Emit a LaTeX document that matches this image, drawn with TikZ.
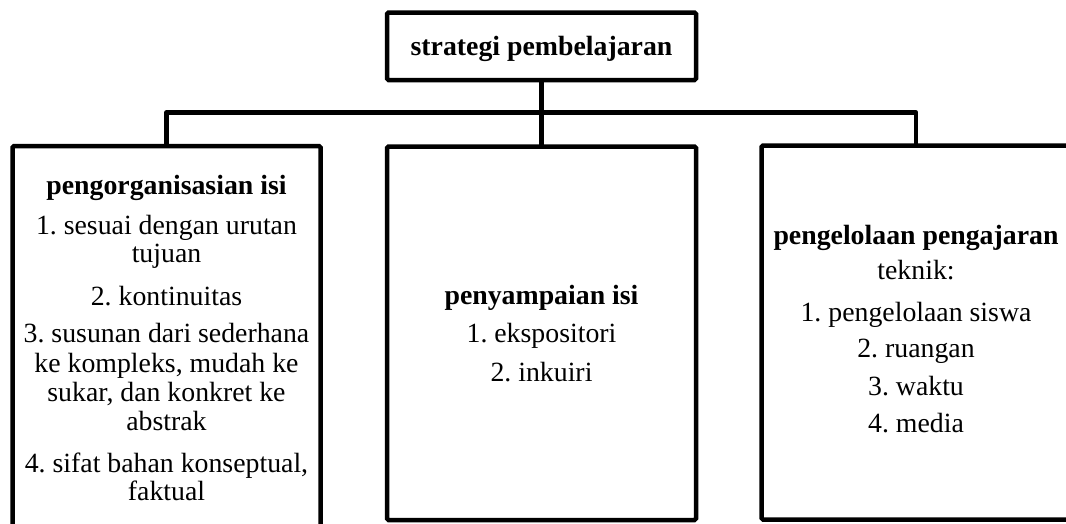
\documentclass[tikz,border=0pt]{standalone}
\usepackage{fontspec}
\setmainfont{Liberation Serif}
\frenchspacing
\begin{document}
\begin{tikzpicture}[x=1pt,y=-1pt,
  box/.style={draw, line width=4.5pt, rounded corners=1.5pt, inner sep=0pt, outer sep=0pt},
  conn/.style={draw, line width=4.5pt, line join=round},
  tl/.style={anchor=base, inner sep=0pt, font=\fontsize{27.8}{30}\selectfont},
  th/.style={tl, font=\fontsize{27.8}{30}\selectfont\bfseries}]
\useasboundingbox (0,0) rectangle (1066,523);
\clip (0,0) rectangle (1066,523);
% boxes
\node[box, minimum width=309pt, minimum height=67.5pt] (top) at (541.5,46.25) {};
\node[box, minimum width=308pt, minimum height=414pt] (left) at (166.5,353) {};
\node[box, minimum width=309pt, minimum height=373.5pt] (mid) at (541.5,333.25) {};
\node[box, minimum width=309pt, minimum height=374pt] (right) at (916,332.5) {};
% connectors
\coordinate (bus) at (541.5,112.5);
\draw[conn] (top.south) -- (mid.north);
\draw[conn] (left.north) -- (left.north |- bus) -- (right.north |- bus) -- (right.north);
% top text
\node[th] (t0) at (541.5,55) {strategi pembelajaran};
% left texts
\node[th] (l0) at (166.5,194) {pengorganisasian isi};
\node[tl] (l1) at (166.5,234) {1. sesuai dengan urutan};
\node[tl] (l2) at (166.5,262) {tujuan};
\node[tl] (l3) at (166.5,305) {2. kontinuitas};
\node[tl] (l4) at (166.5,342) {3. susunan dari sederhana};
\node[tl] (l5) at (166.5,372) {ke kompleks, mudah ke};
\node[tl] (l6) at (166.5,401) {sukar, dan konkret ke};
\node[tl] (l7) at (166.5,430) {abstrak};
\node[tl] (l8) at (166.5,472) {4. sifat bahan konseptual,};
\node[tl] (l9) at (166.5,500) {faktual};
% middle texts
\node[th] (m0) at (541.5,304) {penyampaian isi};
\node[tl] (m1) at (541.5,342) {1. ekspositori};
\node[tl] (m2) at (541.5,381) {2. inkuiri};
% right texts
\node[th] (r0) at (916,244) {pengelolaan pengajaran};
\node[tl] (r1) at (916,279) {teknik:};
\node[tl] (r2) at (916,321) {1. pengelolaan siswa};
\node[tl] (r3) at (916,357) {2. ruangan};
\node[tl] (r4) at (916,395) {3. waktu};
\node[tl] (r5) at (916,432) {4. media};
\end{tikzpicture}
\end{document}
